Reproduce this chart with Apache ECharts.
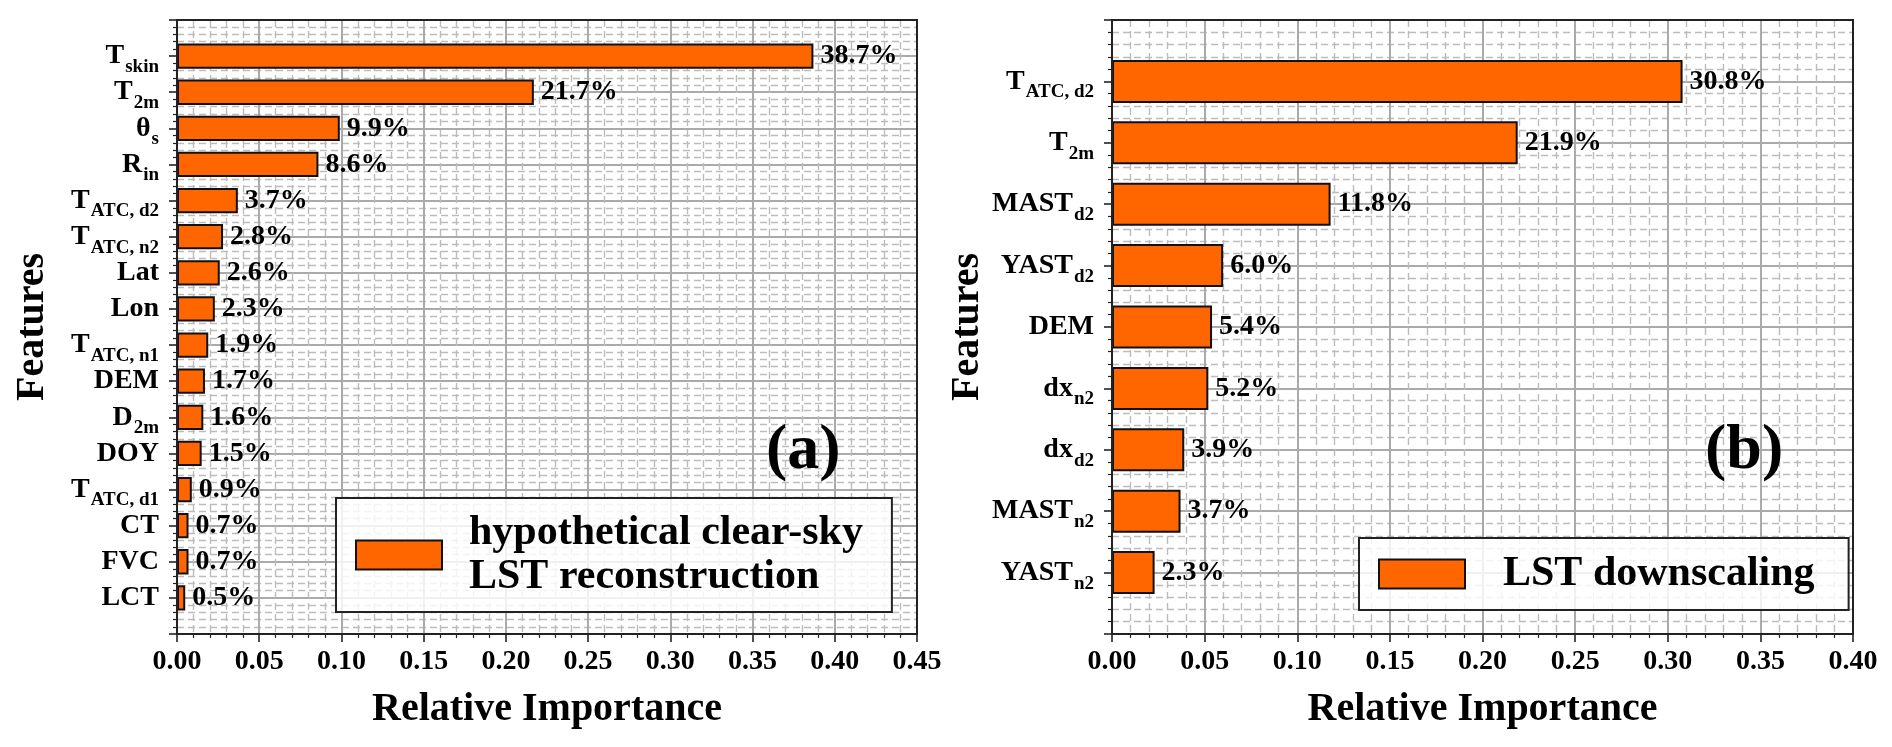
<!DOCTYPE html>
<html>
<head>
<meta charset="utf-8">
<script src="https://cdn.jsdelivr.net/npm/echarts@6/dist/echarts.min.js"></script>
<style>
html,body{margin:0;padding:0;background:#fff;}
#c{width:1892px;height:747px;}
</style>
</head>
<body>
<div id="c"></div>
<script>
// ---- data ----
const leftNames  = ['T','T','θ','R','T','T','Lat','Lon','T','DEM','D','DOY','T','CT','FVC','LCT'];
const leftSubs   = ['skin','2m','s','in','ATC, d2','ATC, n2','','','ATC, n1','','2m','','ATC, d1','','',''];
const leftValues = [0.387,0.217,0.099,0.086,0.037,0.028,0.026,0.023,0.019,0.017,0.016,0.015,0.009,0.007,0.007,0.005];

const rightNames  = ['T','T','MAST','YAST','DEM','dx','dx','MAST','YAST'];
const rightSubs   = ['ATC, d2','2m','d2','d2','','n2','d2','n2','n2'];
const rightValues = [0.308,0.219,0.118,0.060,0.054,0.052,0.039,0.037,0.023];

const leftXMax = 0.45, rightXMax = 0.40, xStep = 0.05;
const leftLegend = 'hypothetical clear-sky\nLST reconstruction';
const rightLegend = 'LST downscaling';
const panelTags = ['(a)','(b)'];

// ---- layout/style ----
const FONT = "'Liberation Serif','Times New Roman',serif";
const FT = 20, FH = 614;               // frame top / height
const LX = 177, RX = 1112, FW = 740;   // frame lefts / width
const leftN = leftNames.length, rightN = rightNames.length;
const lUnit = FH / (leftN + 1), rUnit = FH / (rightN + 1);

const cats = (n, s) => n.map((v, i) => v + '|' + s[i]);

const rich = {
  m: {fontFamily: FONT, fontWeight: 'bold', fontSize: 28, lineHeight: 28, color: '#000'},
  s: {fontFamily: FONT, fontWeight: 'bold', fontSize: 19, lineHeight: 19, color: '#000', padding: [22, 0, 0, 1]}
};
const catFmt = v => {
  const p = v.split('|');
  return p[1] ? '{m|' + p[0] + '}{s|' + p[1] + '}' : '{m|' + p[0] + '}';
};

const gridMajor = {show: true, lineStyle: {color: '#aaaaaa', width: 2}};
const gridMinor = {show: true, lineStyle: {color: '#bcbcbc', width: 1.4, type: [7, 4]}};

function frameX(idx, max) {
  return {
    type: 'value', gridIndex: idx, min: 0, max: max, interval: xStep,
    axisLine: {show: false, onZero: false},
    axisTick: {show: true, length: 8, lineStyle: {color: '#222', width: 1.6}},
    minorTick: {show: true, splitNumber: 5, length: 4, lineStyle: {color: '#222', width: 1.2}},
    splitLine: gridMajor, minorSplitLine: gridMinor,
    axisLabel: {show: true, margin: 14, color: '#000', fontFamily: FONT, fontWeight: 'bold', fontSize: 28,
      formatter: v => v.toFixed(2)},
    name: 'Relative Importance', nameLocation: 'middle', nameGap: 56,
    nameTextStyle: {color: '#000', fontFamily: FONT, fontWeight: 'bold', fontSize: 40}
  };
}
function frameY(idx, n, gap) {
  return {
    type: 'value', gridIndex: idx, min: -1, max: n, interval: 1,
    axisLine: {show: false, onZero: false},
    axisTick: {show: true, length: 8, lineStyle: {color: '#222', width: 1.6}},
    minorTick: {show: true, splitNumber: 5, length: 4, lineStyle: {color: '#222', width: 1.2}},
    splitLine: gridMajor, minorSplitLine: gridMinor,
    axisLabel: {show: false},
    name: 'Features', nameLocation: 'middle', nameGap: gap,
    nameTextStyle: {color: '#000', fontFamily: FONT, fontWeight: 'bold', fontSize: 40}
  };
}
function catX(idx, max) {
  return {type: 'value', gridIndex: idx, min: 0, max: max, show: false, axisLine: {onZero: false}};
}
function catY(idx, data) {
  return {
    type: 'category', gridIndex: idx, data: data, inverse: true,
    axisLine: {show: false, onZero: false}, axisTick: {show: false}, splitLine: {show: false},
    axisLabel: {show: true, interval: 0, showMinLabel: true, showMaxLabel: true, hideOverlap: false,
      margin: 18, formatter: catFmt, rich: rich}
  };
}
function barSeries(name, idx, vals) {
  return {
    type: 'bar', name: name, xAxisIndex: idx, yAxisIndex: idx, data: vals, barWidth: '70%',
    itemStyle: {color: '#FF6600', borderColor: '#111', borderWidth: 2},
    label: {show: true, position: 'right', distance: 7, color: '#000', fontFamily: FONT, fontWeight: 'bold', fontSize: 28,
      formatter: p => (p.value * 100).toFixed(1) + '%'},
    z: 3
  };
}
const legendBase = {
  orient: 'vertical', icon: 'rect', itemWidth: 86, itemHeight: 29,
  backgroundColor: 'rgba(255,255,255,0.82)', borderColor: '#222', borderWidth: 2, borderRadius: 0,
  selectedMode: false, z: 10
};
const legendText = pad => ({color: '#000', fontFamily: FONT, fontWeight: 'bold', fontSize: 42, lineHeight: 44, padding: [0, 0, 0, pad]});

const chart = echarts.init(document.getElementById('c'), null, {renderer: 'canvas'});
chart.setOption({
  animation: false,
  backgroundColor: '#fff',
  title: [
    {text: panelTags[0], left: 766, top: 419, padding: 0, textStyle: {fontFamily: FONT, fontWeight: 'bold', fontSize: 64, color: '#000'}, z: 5},
    {text: panelTags[1], left: 1705, top: 419, padding: 0, textStyle: {fontFamily: FONT, fontWeight: 'bold', fontSize: 64, color: '#000'}, z: 5}
  ],
  grid: [
    {left: LX, top: FT, width: FW, height: FH, show: true, borderColor: '#222', borderWidth: 2, backgroundColor: 'transparent', z: 4},
    {left: LX, top: FT + lUnit / 2, width: FW, height: lUnit * leftN},
    {left: RX, top: FT, width: FW + 1, height: FH, show: true, borderColor: '#222', borderWidth: 2, backgroundColor: 'transparent', z: 4},
    {left: RX, top: FT + rUnit / 2, width: FW + 1, height: rUnit * rightN}
  ],
  xAxis: [frameX(0, leftXMax), catX(1, leftXMax), frameX(2, rightXMax), catX(3, rightXMax)],
  yAxis: [frameY(0, leftN, 124), catY(1, cats(leftNames, leftSubs)), frameY(2, rightN, 124), catY(3, cats(rightNames, rightSubs))],
  legend: [
    Object.assign({}, legendBase, {data: [leftLegend], left: 336, top: 498, padding: [13, 29, 13, 19], textStyle: legendText(22)}),
    Object.assign({}, legendBase, {data: [rightLegend], left: 1359, top: 538, padding: [14, 34, 14, 19], textStyle: legendText(33)})
  ],
  series: [barSeries(leftLegend, 1, leftValues), barSeries(rightLegend, 3, rightValues)]
});
</script>
</body>
</html>
